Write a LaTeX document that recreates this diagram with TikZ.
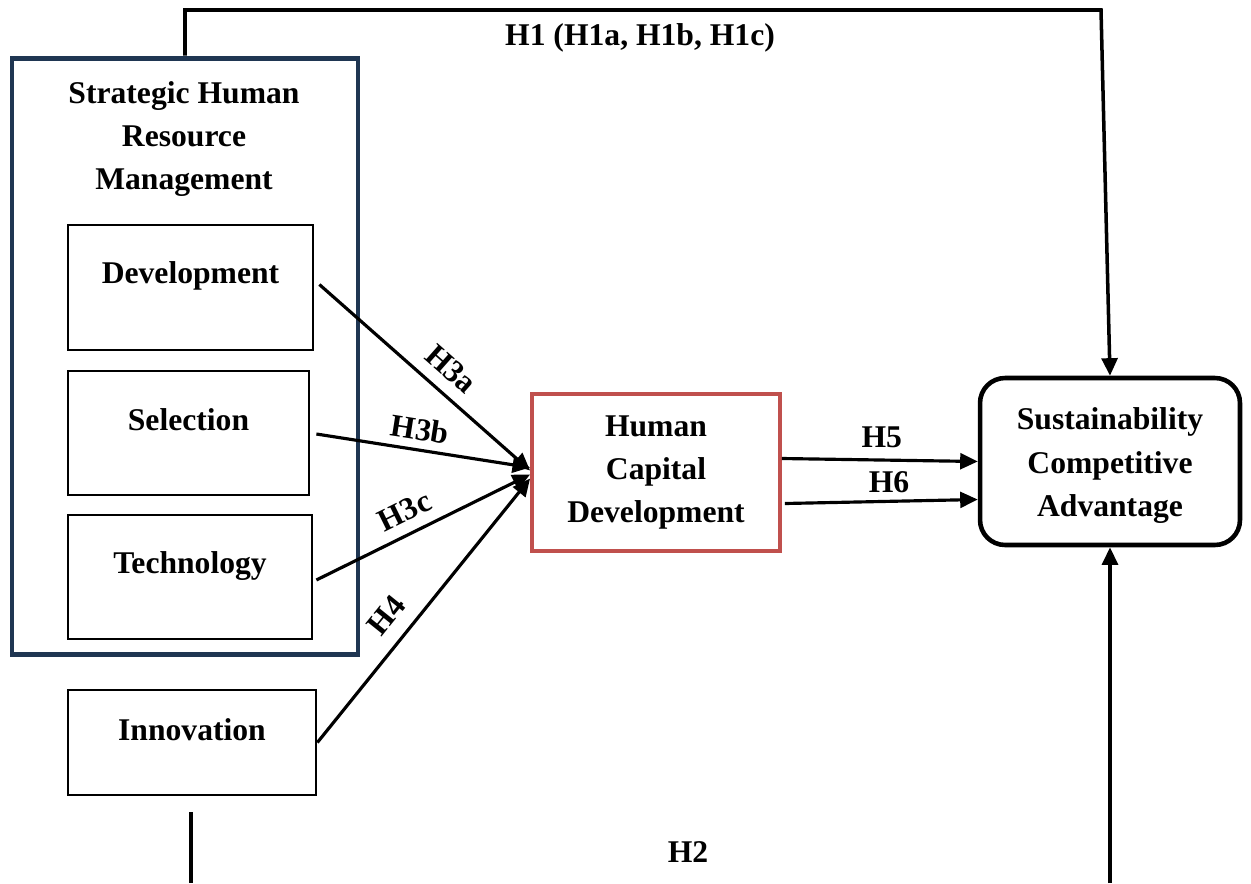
\documentclass[tikz,border=0pt]{standalone}
\usepackage{fontspec}
\setmainfont{Liberation Serif}
\usepackage{tikz}
\usetikzlibrary{arrows.meta}
\usetikzlibrary{calc}
\usetikzlibrary{positioning}
\definecolor{shrmblue}{HTML}{1F3652}
\definecolor{hcdred}{HTML}{C0504D}
\tikzset{itembox/.style={draw, line width=1.6pt}}
\tikzset{link/.style={-{Triangle[length=10pt,width=9pt]}, line width=1.8pt}}

\begin{document}
\begin{tikzpicture}[x=0.02cm, y=-0.02cm]
	% Default action for each node
	\tikzstyle{every node}=[font=\bfseries\fontsize{18}{24.5}\selectfont, align=center, inner sep=0pt];
	\useasboundingbox (0,0) rectangle (1251,883);

	% LHS
	\node[draw=shrmblue, line width=2.8pt, minimum width=6.92cm, minimum height=11.94cm] (shrm) at (185,356.5) {};
	\node (shrmtitle) at (184,139) {Strategic Human\\Resource\\Management};

	\node[itembox, minimum width=4.9cm, minimum height=2.5cm, label={[yshift=6.5pt]center:Development}] (dev) at (190.5,287.5) {};
	\node[itembox, minimum width=4.82cm, minimum height=2.48cm, label={[yshift=7.5pt]center:Selection}] (sel) at (188.5,433) {};
	\node[itembox, minimum width=4.88cm, minimum height=2.48cm, label={[yshift=6.5pt]center:Technology}] (tech) at (190,577) {};
	\node[itembox, minimum width=4.96cm, minimum height=2.1cm, label={[yshift=7.5pt]center:Innovation}] (inno) at (192,742.5) {};

	% MIDDLE
	\node[draw=hcdred, line width=2.2pt, minimum width=4.96cm, minimum height=3.14cm] (hcd) at (656,472.5) {Human\\Capital\\Development};

	% RHS
	\node[draw, line width=2.6pt, rounded corners=0.5cm, minimum width=5.2cm, minimum height=3.34cm,
		label={[yshift=-2.3pt]center:Sustainability\\Competitive\\Advantage}] (sca) at (1110,461.5) {};

	\coordinate (h1turn) at (1101,10);
	\coordinate (h2start) at (191,812);
	\coordinate (h2end) at (191,883);
	\coordinate (h2rise) at (1110,883);

	% Arrows into HCD
	\draw[link] ($(dev.east)+(5,-3)$) -- node[sloped, above=6.5pt, pos=0.55] (h3a) {H3a} ($(hcd.west)+(0,-2)$);
	\draw[link] ($(sel.east)+(6,1)$) -- node[sloped, above=4.5pt, pos=0.47] (h3b) {H3b} ($(hcd.west)+(0,-5)$);
	\draw[link] ($(tech.east)+(3,3)$) -- node[sloped, above=6pt, pos=0.46] (h3c) {H3c} ($(hcd.west)+(0,2)$);
	\draw[link] (inno.east) -- node[sloped, above=8pt, pos=0.42] (h4) {H4} ($(hcd.west)+(0,6)$);

	% Arrows into SCA
	\draw[link] ($(hcd.east)+(0,-14)$) -- node[above=6pt, pos=0.51] (h5) {H5} ($(sca.west)+(0,0)$);
	\draw[link] ($(hcd.east)+(3,31)$) -- node[above=4pt, pos=0.54] (h6) {H6} ($(sca.west)+(0,38)$);

	% H1 and H2
	\draw[link, line width=2pt] (shrm.north) |- (h1turn) -- (sca.north);
	\node (h1) at (640,38) {H1 (H1a, H1b, H1c)};

	\draw[line width=2pt] (h2start) -- (h2end);
	\draw[link, line width=2pt] (h2rise) -- (sca.south);
	\node (h2) at (688,852) {H2};
\end{tikzpicture}
\end{document}
